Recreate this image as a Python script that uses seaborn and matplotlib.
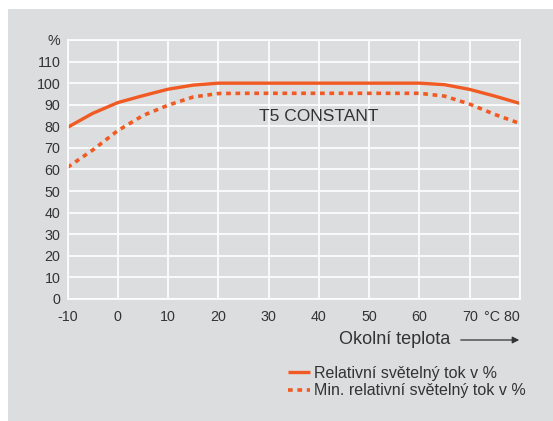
import pandas as pd
import matplotlib.pyplot as plt
import matplotlib.patches as mpatches
import seaborn as sns

# ambient temperature (°C) and relative luminous flux (%)
temperature = [-10, -5, 0, 5, 10, 15, 20, 25, 30, 35, 40, 45, 50, 55, 60, 65, 70, 75, 80]
flux = [79.5, 86, 91, 94.2, 97.2, 99.1, 100, 100, 100, 100, 100, 100, 100, 100, 100, 99.3, 97.1, 94, 90.6]
flux_min = [61, 69, 78, 85, 89.8, 93.6, 95.2, 95.3, 95.3, 95.3, 95.3, 95.3, 95.3, 95.3, 95.3, 94, 90.3, 85.5, 81.3]

x_ticks = [-10, 0, 10, 20, 30, 40, 50, 60, 70, 80]
x_labels = ["-10", "0", "10", "20", "30", "40", "50", "60", "70", "°C 80"]
y_ticks = [0, 10, 20, 30, 40, 50, 60, 70, 80, 90, 100, 110, 120]
y_labels = ["0", "10", "20", "30", "40", "50", "60", "70", "80", "90", "100", "110", "%"]

series_names = ["Relativní světelný tok v %", "Min. relativní světelný tok v %"]

ORANGE = "#f15a22"
PANEL = "#dcdddf"
TEXT = "#333333"

sns.set_theme(style="whitegrid")
plt.rcParams["font.family"] = ["Liberation Sans", "DejaVu Sans"]

fig = plt.figure(figsize=(5.53, 4.21), dpi=100)
fig.patch.set_facecolor("white")
fig.patches.append(mpatches.Rectangle((8 / 553, 0), 1, 1 - 9 / 421, transform=fig.transFigure,
                                      facecolor=PANEL, edgecolor="none", zorder=-10))

ax = fig.add_axes([67.5 / 553, 122 / 421, 452.5 / 553, 259 / 421])
ax.set_facecolor(PANEL)

df = pd.DataFrame({"t": temperature, "flux": flux, "flux_min": flux_min})
sns.lineplot(data=df, x="t", y="flux", ax=ax, color=ORANGE, lw=2.4, label=series_names[0])
sns.lineplot(data=df, x="t", y="flux_min", ax=ax, color=ORANGE, lw=2.6,
             linestyle=(0, (1.3, 1.3)), label=series_names[1])
for line in ax.lines:
    line.set_dash_capstyle("butt")
    line.set_solid_capstyle("butt")

ax.set_xlim(-10, 80)
ax.set_ylim(0, 120)
ax.set_xticks(x_ticks)
ax.set_xticklabels(x_labels)
ax.set_yticks(y_ticks)
ax.set_yticklabels(y_labels)
for lbl in ax.get_xticklabels():
    if lbl.get_text().startswith("°C"):
        lbl.set_horizontalalignment("right")
        lbl.set_x(80.9)
ax.grid(True, color="white", lw=1.2)
for s in ax.spines.values():
    s.set_color("white")
    s.set_linewidth(1.2)
ax.tick_params(axis="both", length=0, labelsize=10.3, colors=TEXT)
ax.tick_params(axis="x", pad=8)
ax.tick_params(axis="y", pad=5)
ax.set_xlabel("")
ax.set_ylabel("")

ax.text(28, 84.5, "T5 CONSTANT", fontsize=12.5, color=TEXT, va="center", ha="left")

fig.text(339 / 553, 1 - 340 / 421, "Okolní teplota", fontsize=13, color=TEXT, va="center", ha="left")
fig.add_artist(mpatches.FancyArrowPatch((458 / 553, 1 - 340 / 421), (522 / 553, 1 - 340 / 421),
                                        transform=fig.transFigure, arrowstyle="-|>,head_length=4,head_width=2",
                                        color=TEXT, lw=0.9))

ax.legend_.remove()
handles, labels = ax.get_legend_handles_labels()
fig.legend(handles, labels, loc="upper left", bbox_to_anchor=(288 / 553, 1 - 366 / 421),
           frameon=False, fontsize=11.5, handlelength=1.35, handletextpad=0.25,
           labelspacing=0.15, borderpad=0, borderaxespad=0, labelcolor=TEXT)

fig.savefig("out.png", dpi=100)
